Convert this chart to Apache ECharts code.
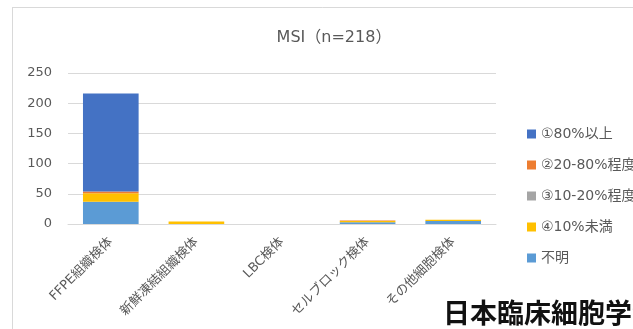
<!DOCTYPE html>
<html>
<head>
<meta charset="utf-8">
<script src="https://cdn.jsdelivr.net/npm/echarts@6/dist/echarts.min.js"></script>
<style>
  html, body { margin: 0; padding: 0; background: #fff; }
  #chart { width: 633px; height: 329px; }
</style>
</head>
<body>
<div id="chart"></div>
<script>
// Specimen types on the x axis
const categories = ['FFPE組織検体', '新鮮凍結組織検体', 'LBC検体', 'セルブロック検体', 'その他細胞検体'];

// Counts per tumour-cell-content class, stacked per specimen type
const over80    = [162, 0, 0, 0, 0];
const pct20to80 = [3, 0, 0, 1, 0];
const pct10to20 = [0, 0, 0, 0, 0];
const under10   = [14, 4, 0, 2, 2];
const unknown   = [37, 0, 0, 3, 5];

const yTicks = [0, 50, 100, 150, 200, 250];

const seriesNames = ['①80%以上', '②20-80%程度', '③10-20%程度', '④10%未満', '不明'];

const FONT = '"DejaVu Sans", "Noto Sans CJK JP", sans-serif';
const GREY_TEXT = '#595959';

const chart = echarts.init(document.getElementById('chart'));

function bar(name, data, color) {
  return {
    name: name,
    type: 'bar',
    stack: 'total',
    data: data,
    barWidth: '65%',
    itemStyle: { color: color },
    emphasis: { disabled: true }
  };
}

chart.setOption({
  animation: false,
  backgroundColor: '#ffffff',
  title: {
    text: 'MSI（n=218）',
    left: 329,
    top: 25,
    textAlign: 'center',
    textStyle: { fontFamily: FONT, fontSize: 16, fontWeight: 'normal', color: GREY_TEXT }
  },
  legend: {
    orient: 'vertical',
    left: 522,
    top: 120,
    itemWidth: 9,
    itemHeight: 9,
    itemGap: 13,
    icon: 'rect',
    data: seriesNames,
    textStyle: { fontFamily: FONT, fontSize: 14, color: GREY_TEXT, lineHeight: 18 }
  },
  grid: { left: 68, right: 137, top: 73, bottom: 105, containLabel: false },
  xAxis: {
    type: 'category',
    data: categories,
    axisLine: { lineStyle: { color: '#d9d9d9' } },
    axisTick: { show: false },
    axisLabel: {
      rotate: 45,
      interval: 0,
      margin: 16,
      fontFamily: FONT,
      fontSize: 13,
      color: GREY_TEXT
    }
  },
  yAxis: {
    type: 'value',
    min: yTicks[0],
    max: yTicks[yTicks.length - 1],
    interval: yTicks[1] - yTicks[0],
    axisLine: { show: false },
    axisTick: { show: false },
    splitLine: { lineStyle: { color: '#d9d9d9' } },
    axisLabel: { margin: 16, fontFamily: FONT, fontSize: 13, color: GREY_TEXT }
  },
  series: [
    bar(seriesNames[4], unknown, '#5B9BD5'),
    bar(seriesNames[3], under10, '#FFC000'),
    bar(seriesNames[2], pct10to20, '#A5A5A5'),
    bar(seriesNames[1], pct20to80, '#ED7D31'),
    bar(seriesNames[0], over80, '#4472C4')
  ],
  graphic: [
    // chart-area frame (left and top edges)
    { type: 'line', shape: { x1: 12.5, y1: 7, x2: 12.5, y2: 329 }, style: { stroke: '#d9d9d9', lineWidth: 1 } },
    { type: 'line', shape: { x1: 12.5, y1: 7.5, x2: 633, y2: 7.5 }, style: { stroke: '#d9d9d9', lineWidth: 1 } },
    {
      type: 'text',
      left: 443,
      top: 299,
      style: {
        text: '日本臨床細胞学会',
        font: 'bold 27px "Noto Sans CJK JP", sans-serif',
        fill: '#111111'
      }
    }
  ]
});
</script>
</body>
</html>
